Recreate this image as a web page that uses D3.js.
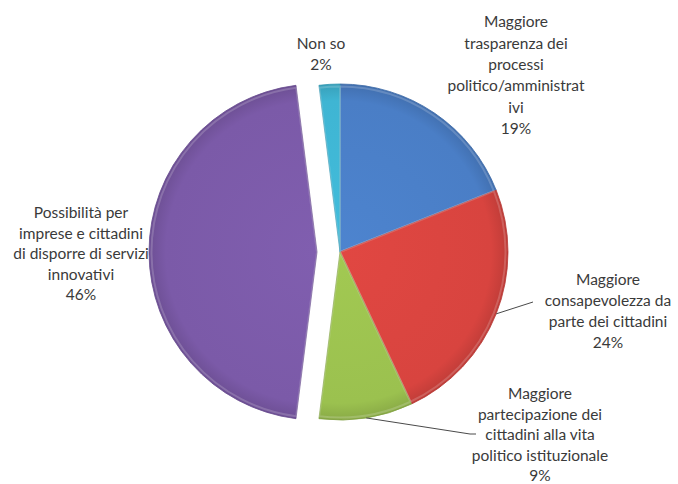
<!DOCTYPE html>
<html>
<head>
<meta charset="utf-8">
<script src="https://cdn.jsdelivr.net/npm/d3@7"></script>
<style>
  html, body { margin: 0; padding: 0; background: #ffffff; }
  svg { display: block; }
  .lbl { font-family: Lato, "Open Sans", sans-serif; font-size: 15.5px; fill: #3a3a3a; }
</style>
</head>
<body>
<svg id="chart" width="678" height="484"></svg>
<script>
// Answers and their shares (percent)
const categories = [
  "Maggiore trasparenza dei processi politico/amministrativi",
  "Maggiore consapevolezza da parte dei cittadini",
  "Maggiore partecipazione dei cittadini alla vita politico istituzionale",
  "Possibilità per imprese e cittadini di disporre di servizi innovativi",
  "Non so"
];
const values = [19, 24, 9, 46, 2];
const labelLines = [
  ["Maggiore", "trasparenza dei", "processi", "politico/amministrat", "ivi"],
  ["Maggiore", "consapevolezza da", "parte dei cittadini"],
  ["Maggiore", "partecipazione dei", "cittadini alla vita", "politico istituzionale"],
  ["Possibilità per", "imprese e cittadini", "di disporre di servizi", "innovativi"],
  ["Non so"]
];
const colors = ["#4a7ec6", "#d8443f", "#9bc14f", "#7b5aa8", "#3fb5d3"];

const svg = d3.select("#chart");
const cx = 340, cy = 252, R = 168;
const explode = [0, 0, 0, 23, 0];

const pie = d3.pie().sort(null).value(d => d)(values);
const arc = d3.arc().innerRadius(0).outerRadius(R);

const defs = svg.append("defs");
colors.forEach((c, i) => {
  const g = defs.append("radialGradient")
    .attr("id", "grad" + i)
    .attr("gradientUnits", "userSpaceOnUse")
    .attr("cx", 0).attr("cy", 0).attr("r", R);
  const base = d3.color(c);
  g.append("stop").attr("offset", "0%").attr("stop-color", base.brighter(0.12));
  g.append("stop").attr("offset", "90%").attr("stop-color", base);
  g.append("stop").attr("offset", "100%").attr("stop-color", base.darker(0.35));
});

const root = svg.append("g").attr("transform", `translate(${cx},${cy})`);

const slices = root.selectAll("g.slice").data(pie).enter().append("g")
  .attr("class", "slice")
  .attr("transform", (d, i) => {
    const m = (d.startAngle + d.endAngle) / 2;
    return `translate(${Math.sin(m) * explode[i]},${-Math.cos(m) * explode[i]})`;
  });

slices.append("path")
  .attr("d", arc)
  .attr("fill", (d, i) => `url(#grad${i})`)
  .attr("stroke", (d, i) => d3.color(colors[i]).darker(0.5))
  .attr("stroke-width", 0.8)
  .attr("stroke-linejoin", "round");

// inner highlight along edges for a soft bevel
slices.append("path")
  .attr("d", d3.arc().innerRadius(0).outerRadius(R - 2.5))
  .attr("fill", "none")
  .attr("stroke", "#ffffff")
  .attr("stroke-opacity", 0.18)
  .attr("stroke-width", 2);

// Label placement (centre x, first line centre y)
const labelPos = [
  { x: 516, y: 22, dy: 21.3 },
  { x: 608, y: 280, dy: 21 },
  { x: 540, y: 394, dy: 20.5 },
  { x: 81, y: 213, dy: 20.5 },
  { x: 321, y: 44, dy: 21 }
];

labelLines.forEach((lines, i) => {
  const p = labelPos[i];
  const t = svg.append("text").attr("class", "lbl").attr("text-anchor", "middle");
  const all = lines.concat([values[i] + "%"]);
  all.forEach((ln, k) => {
    t.append("tspan")
      .attr("x", p.x)
      .attr("y", p.y + k * p.dy)
      .attr("dy", "0.35em")
      .text(ln);
  });
});

// Leader lines for the two labels placed away from their slices
function edgePoint(i) {
  const d = pie[i];
  const m = (d.startAngle + d.endAngle) / 2;
  return [cx + Math.sin(m) * R, cy - Math.cos(m) * R];
}
const leaders = [
  { i: 1, pts: [[533, 302]] },
  { i: 2, pts: [[470, 434], [476, 434]] }
];
leaders.forEach(l => {
  const pts = [edgePoint(l.i)].concat(l.pts);
  svg.append("path")
    .attr("d", d3.line()(pts))
    .attr("fill", "none")
    .attr("stroke", "#4a4a4a")
    .attr("stroke-width", 1);
});
</script>
</body>
</html>
